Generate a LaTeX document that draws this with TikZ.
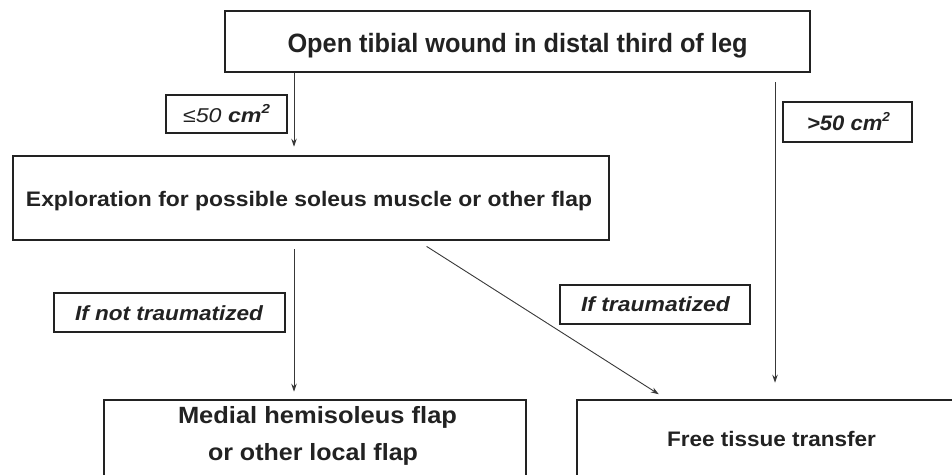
\documentclass[tikz,border=0pt]{standalone}
\usepackage{fontspec}
\setmainfont{Liberation Sans}
\usetikzlibrary{arrows.meta}
\definecolor{ink}{HTML}{222222}
\newsavebox\fitbox
\newcommand\fitw[2]{\sbox\fitbox{#2}\pgfmathsetmacro\fitfac{#1/\wd\fitbox}\scalebox{\fitfac}[1]{\usebox\fitbox}}
\newcommand\sqsup{\raisebox{0.42em}{\fontsize{13}{13}\selectfont 2}}
\begin{document}
\begin{tikzpicture}[x=1pt,y=-1pt,
  box/.style={draw=ink,line width=2.6pt,inner sep=0pt,rectangle},
  lbl/.style={draw=ink,line width=2.3pt,inner sep=0pt,rectangle},
  txt/.style={inner sep=0pt,text=ink,anchor=base},
  conn/.style={draw=ink!90,line width=0.9pt,-{Stealth[length=8pt,width=5.5pt]}}]
\useasboundingbox (0,0) rectangle (952,474);
\clip (0,0) rectangle (952,474);

% main boxes
\node[box,minimum width=585pt,minimum height=61pt] (top) at (517.5,41.5) {};
\node[txt] (toptxt) at (517.5,52.3)
  {\fontsize{26.5}{30}\selectfont\bfseries\fitw{460}{Open tibial wound in distal third of leg}};
\node[box,minimum width=596pt,minimum height=84pt] (expl) at (311,198) {};
\node[txt] (expltxt) at (309,206)
  {\fontsize{21}{24}\selectfont\bfseries\fitw{566}{Exploration for possible soleus muscle or other flap}};
\node[box,minimum width=422pt,minimum height=90pt] (medial) at (315,445) {};
\node[txt] (medtxt1) at (317.5,423.3) {\fontsize{23.5}{25}\selectfont\bfseries\fitw{279}{Medial hemisoleus flap}};
\node[txt] (medtxt2) at (313,460) {\fontsize{23.5}{25}\selectfont\bfseries\fitw{210}{or other local flap}};
\node[box,minimum width=383pt,minimum height=90pt] (free) at (768.5,445) {};
\node[txt] (freetxt) at (771.5,446.7) {\fontsize{21}{24}\selectfont\bfseries\fitw{209}{Free tissue transfer}};

% labels
\node[lbl,minimum width=121pt,minimum height=38pt] (le50) at (226.5,114) {};
\node[txt] (le50txt) at (226.5,122.3)
  {\fontsize{20}{24}\selectfont\itshape\fitw{87}{≤50 \textbf{cm\sqsup}}};
\node[lbl,minimum width=129pt,minimum height=40pt] (gt50) at (847.5,122) {};
\node[txt] (gt50txt) at (848.5,130)
  {\fontsize{21}{24}\selectfont\bfseries\itshape\fitw{83}{>50 cm\sqsup}};
\node[lbl,minimum width=231pt,minimum height=39pt] (notr) at (169.5,312.5) {};
\node[txt] (notrtxt) at (169,320)
  {\fontsize{20.5}{24}\selectfont\bfseries\itshape\fitw{188}{If not traumatized}};
\node[lbl,minimum width=190pt,minimum height=39pt] (tr) at (655,304.5) {};
\node[txt] (trtxt) at (655.5,311.7)
  {\fontsize{20.5}{24}\selectfont\bfseries\itshape\fitw{149}{If traumatized}};

% connectors
\draw[conn,shorten >=8pt] (top.south -| 294,0) -- (expl.north -| 294,0);
\draw[conn,shorten <=9pt,shorten >=16pt] (top.south -| 775,0) -- (free.north -| 775,0);
\draw[conn,shorten <=8pt,shorten >=7pt] (expl.south -| 294,0) -- (medial.north -| 294,0);
\draw[conn,shorten <=9.5pt,shorten >=8.3pt] (expl.south -| 418.6,0) -- (free.north -| 665.8,0);
\end{tikzpicture}
\end{document}
